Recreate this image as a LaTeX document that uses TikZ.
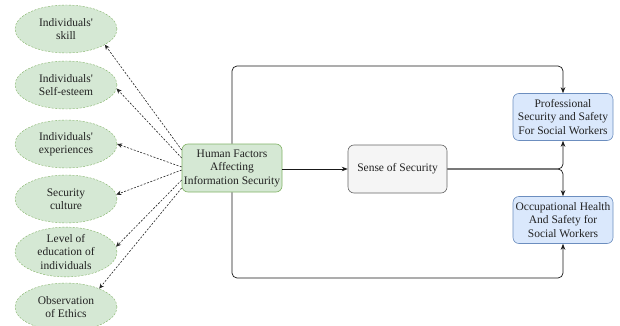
\documentclass[tikz,border=0pt]{standalone}
\usepackage{fontspec}
\setmainfont{Liberation Serif}
\usetikzlibrary{arrows.meta,shapes.geometric}
\definecolor{gfill}{HTML}{D5E8D4}
\definecolor{gdraw}{HTML}{82B366}
\definecolor{bfill}{HTML}{DAE8FC}
\definecolor{bdraw}{HTML}{6C8EBF}
\definecolor{sfill}{HTML}{F5F5F5}
\definecolor{sdraw}{HTML}{666666}
\definecolor{txt}{HTML}{222222}
\begin{document}
\begin{tikzpicture}[x=1pt,y=-1pt,
  font=\rmfamily\fontsize{11.5}{13.5}\selectfont,
  ell/.style={ellipse, draw=gdraw, fill=gfill, dash pattern=on 2pt off 1.5pt,
    minimum width=102pt, minimum height=48pt, inner sep=0pt, align=center, text=txt},
  rbox/.style={rounded corners=6pt, minimum width=100pt, minimum height=48pt,
    align=center, inner sep=1pt, text=txt, line width=0.6pt},
  dasharrow/.style={dash pattern=on 2pt off 1.5pt, line width=0.6pt, draw=black!85,
    -{Stealth[length=5pt,width=4.5pt]}},
  conn/.style={line width=0.7pt, draw=black!90, rounded corners=5pt,
    -{Stealth[length=6pt,width=4.5pt]}}
]
\useasboundingbox (0,0) rectangle (620,326);
\fill[white] (0,0) rectangle (620,326);

\node[ell] (e1) at (66,29) {Individuals\textquotesingle\\skill};
\node[ell] (e2) at (66,85) {Individuals\textquotesingle\\Self-esteem};
\node[ell] (e3) at (66,144) {Individuals\textquotesingle\\experiences};
\node[ell] (e4) at (66,199) {Security\\culture};
\node[ell] (e5) at (66,252) {Level of\\education of\\individuals};
\node[ell] (e6) at (66,307) {Observation\\of Ethics};

\node[rbox, draw=gdraw, fill=gfill] (hf) at (232,168) {Human Factors\\Affecting\\Information Security};
\node[rbox, draw=sdraw, fill=sfill, minimum width=99pt] (s) at (397.5,169) {Sense of Security};
\node[rbox, draw=bdraw, fill=bfill, minimum height=47pt] (p) at (563,117) {Professional\\Security and Safety\\For Social Workers};
\node[rbox, draw=bdraw, fill=bfill, minimum height=47pt] (o) at (563,220) {Occupational Health\\And Safety for\\Social Workers};

\coordinate (ytop) at (0,66);
\coordinate (ybot) at (0,278);

\draw[dasharrow] ([yshift=18pt]hf.west) -- (e1.-22);
\draw[dasharrow] ([yshift=10pt]hf.west) -- (e2.-4);
\draw[dasharrow] ([yshift=1pt]hf.west) -- (e3.east);
\draw[dasharrow] ([yshift=-2pt]hf.west) -- (e4.5);
\draw[dasharrow] ([yshift=-12pt]hf.west) -- (e5.6);
\draw[dasharrow] ([yshift=-20pt]hf.west) -- (e6.29);

\draw[conn] (hf.east |- s.west) -- (s.west);
\draw[conn] (hf.north) -- (hf.north |- ytop) -- (p.north |- ytop) -- (p.north);
\draw[conn] (hf.south) -- (hf.south |- ybot) -- (o.south |- ybot) -- (o.south);
\draw[conn] (s.east) -- (p.south |- s.east) -- (p.south);
\draw[conn] (s.east) -- (o.north |- s.east) -- (o.north);
\end{tikzpicture}
\end{document}
